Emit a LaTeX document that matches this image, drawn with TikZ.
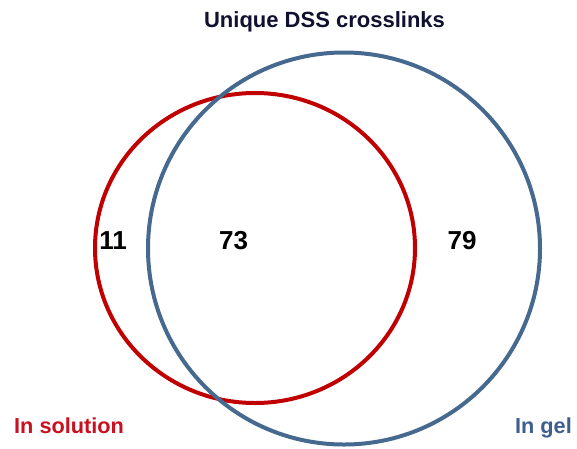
\documentclass[tikz,border=0pt]{standalone}
\usepackage{fontspec}
\setmainfont{Liberation Sans}
\begin{document}
\begin{tikzpicture}[x=1pt,y=-1pt,
  ring/.style={line width=4pt},
  num/.style={font=\fontsize{26}{30}\selectfont\bfseries, anchor=base, inner sep=0pt},
  lab/.style={font=\fontsize{21.7}{25}\selectfont\bfseries, inner sep=0pt}]
\definecolor{vred}{HTML}{C00000}
\definecolor{vblue}{HTML}{46698F}
\definecolor{tred}{HTML}{C8101E}
\definecolor{tblue}{HTML}{3E5F8E}
\definecolor{tnavy}{HTML}{101030}
\useasboundingbox (0,0) rectangle (577,448);
\draw[ring, vred] (255,248) ellipse [x radius=160, y radius=155];
\draw[ring, vblue] (344,248.5) circle [radius=196];
\node[font=\fontsize{22}{26}\selectfont\bfseries, inner sep=0pt, text=tnavy, anchor=base] (title) at (324.5,27) {Unique DSS crosslinks};
\node[num] (n11) at (113,249) {11};
\node[num] (n73) at (233.5,249) {73};
\node[num] (n79) at (462,249) {79};
\node[lab, text=tred, anchor=base west] (sol) at (14,433) {In solution};
\node[lab, text=tblue, anchor=base east] (gel) at (572,433) {In gel};
\end{tikzpicture}
\end{document}
